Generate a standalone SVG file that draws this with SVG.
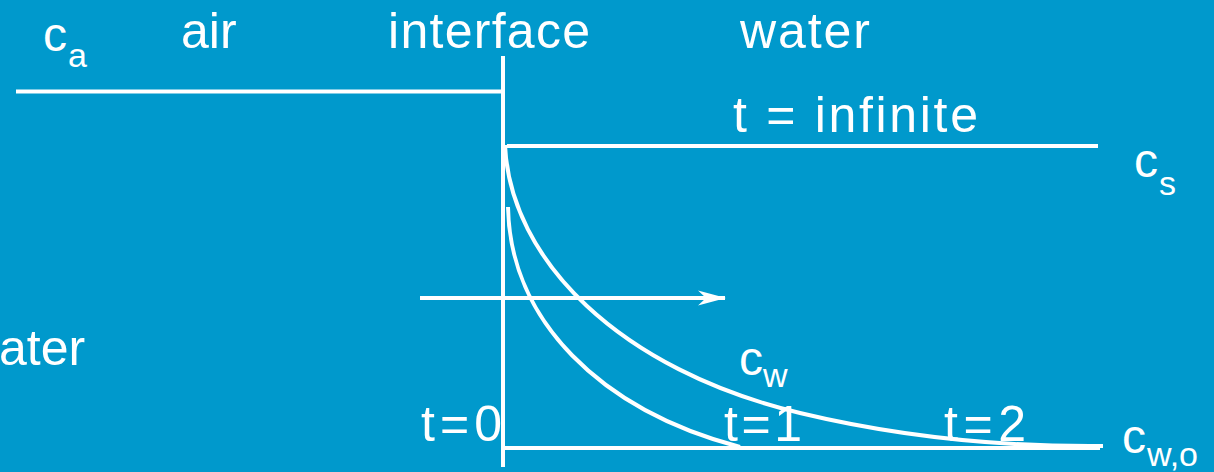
<svg xmlns="http://www.w3.org/2000/svg" width="1214" height="472" viewBox="0 0 1214 472">
<defs>
<style>
.ln{stroke:#fff;stroke-width:4;fill:none}
.t{fill:#fff;font-family:"Liberation Sans",Arial,sans-serif;font-size:50px}
.c{fill:#fff;font-family:"Liberation Sans",Arial,sans-serif;font-size:48px}
.s{fill:#fff;font-family:"Liberation Sans",Arial,sans-serif;font-size:34px}
</style>
<marker id="ah" viewBox="0 0 28 16" refX="27" refY="8" markerWidth="28" markerHeight="16" markerUnits="userSpaceOnUse" orient="auto">
<path d="M0,0.5 L28,8 L0,15.5 L8,8 Z" fill="#fff"/>
</marker>
</defs>
<rect width="1214" height="472" fill="#0099CC"/>
<g id="labels">
<g id="ca"><text class="c" x="43" y="51">c</text><text class="s" x="68" y="67" font-size="38">a</text></g>
<text id="air" class="t" x="181" y="48">air</text>
<text id="interface" class="t" x="388" y="48" textLength="202">interface</text>
<text id="water" class="t" x="740" y="48" textLength="130">water</text>
<text id="tinf" class="t" x="733" y="132" textLength="245">t = infinite</text>
<g id="cs"><text class="c" x="1134" y="177">c</text><text class="s" x="1159" y="195">s</text></g>
<text id="ater" class="t" x="-1" y="365">ater</text>
<g id="cw"><text class="c" x="739" y="375" font-size="50">c</text><text class="s" x="763" y="387">w</text></g>
<text id="t0" class="t" x="421" y="441" textLength="81">t=0</text>
<text id="t1" class="t" x="724" y="441" textLength="78">t=1</text>
<text id="t2" class="t" x="944" y="441" textLength="82">t=2</text>
<g id="cwo"><text class="c" x="1122" y="453" font-size="50">c</text><text class="s" x="1147" y="466">w,o</text></g>
</g>
<g id="connectors">
<line class="ln" x1="16" y1="91.5" x2="503" y2="91.5"/>
<line class="ln" x1="503" y1="56" x2="503" y2="467"/>
<line class="ln" x1="507" y1="146" x2="1098" y2="146"/>
<line class="ln" x1="505" y1="448" x2="1100" y2="448"/>
<path class="ln" d="M505,145 C510,260 620,370 800,413 C900,437 1000,447 1103,446"/>
<path class="ln" d="M508,207 C510,320 600,410 740,447"/>
<line class="ln" x1="420" y1="298" x2="725" y2="298" stroke-width="3.5" marker-end="url(#ah)"/>
</g>
</svg>
